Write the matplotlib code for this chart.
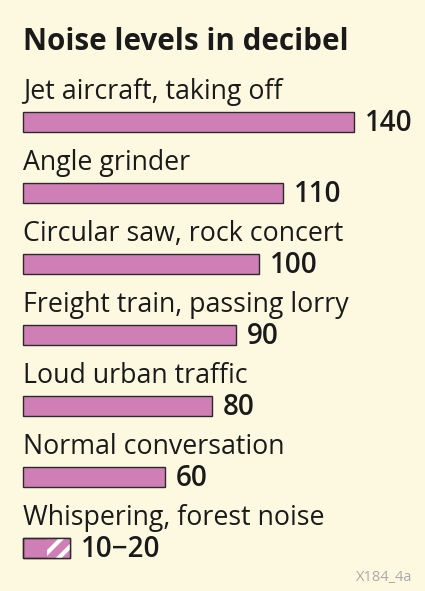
import matplotlib
matplotlib.use("Agg")
import matplotlib.pyplot as plt

labels = ["Jet aircraft, taking off", "Angle grinder", "Circular saw, rock concert",
          "Freight train, passing lorry", "Loud urban traffic", "Normal conversation",
          "Whispering, forest noise"]
low = [140, 110, 100, 90, 80, 60, 10]
high = [140, 110, 100, 90, 80, 60, 20]
value_text = ["140", "110", "100", "90", "80", "60", "10\u221220"]

bg = "#fdf9e0"
pink = "#cf7fb6"
edge = "#2a2a2a"

plt.rcParams["hatch.linewidth"] = 3.0
plt.rcParams["font.family"] = ["Open Sans", "DejaVu Sans"]

fig = plt.figure(figsize=(4.25, 5.91), dpi=100, facecolor=bg)
ax = fig.add_axes([0, 0, 1, 1], facecolor=bg)
ax.set_xlim(-23 / 2.364, (425 - 23) / 2.364)
ax.set_ylim((591 - 122) / 71, -122 / 71)
ax.axis("off")

bh = 20 / 71
for i, lab in enumerate(labels):
    ax.text(0, i - 0.325, lab, fontsize=19.3, color="#1a1a1a", va="baseline", ha="left")
    ax.barh(i, high[i], height=bh, left=0, color=pink, edgecolor=edge, linewidth=1)
    if high[i] > low[i]:
        ax.barh(i, high[i] - low[i], height=bh, left=low[i], color=pink,
                edgecolor="white", linewidth=0, hatch="//")
        ax.barh(i, high[i], height=bh, left=0, color="none", edgecolor=edge, linewidth=1)
    ax.text(high[i] + 4.5, i + 0.02, value_text[i], fontsize=20, fontweight="semibold",
            color="#1a1a1a", va="center", ha="left")

fig.text(23 / 425, 1 - 50 / 591, "Noise levels in decibel", fontsize=21.3,
         fontweight="bold", color="#1a1a1a", va="baseline", ha="left")
fig.text(412 / 425, 1 - 581 / 591, "X184_4a", fontsize=10.5, color="#aaaaaa",
         va="baseline", ha="right")

fig.savefig("out.png", dpi=100, facecolor=bg)
